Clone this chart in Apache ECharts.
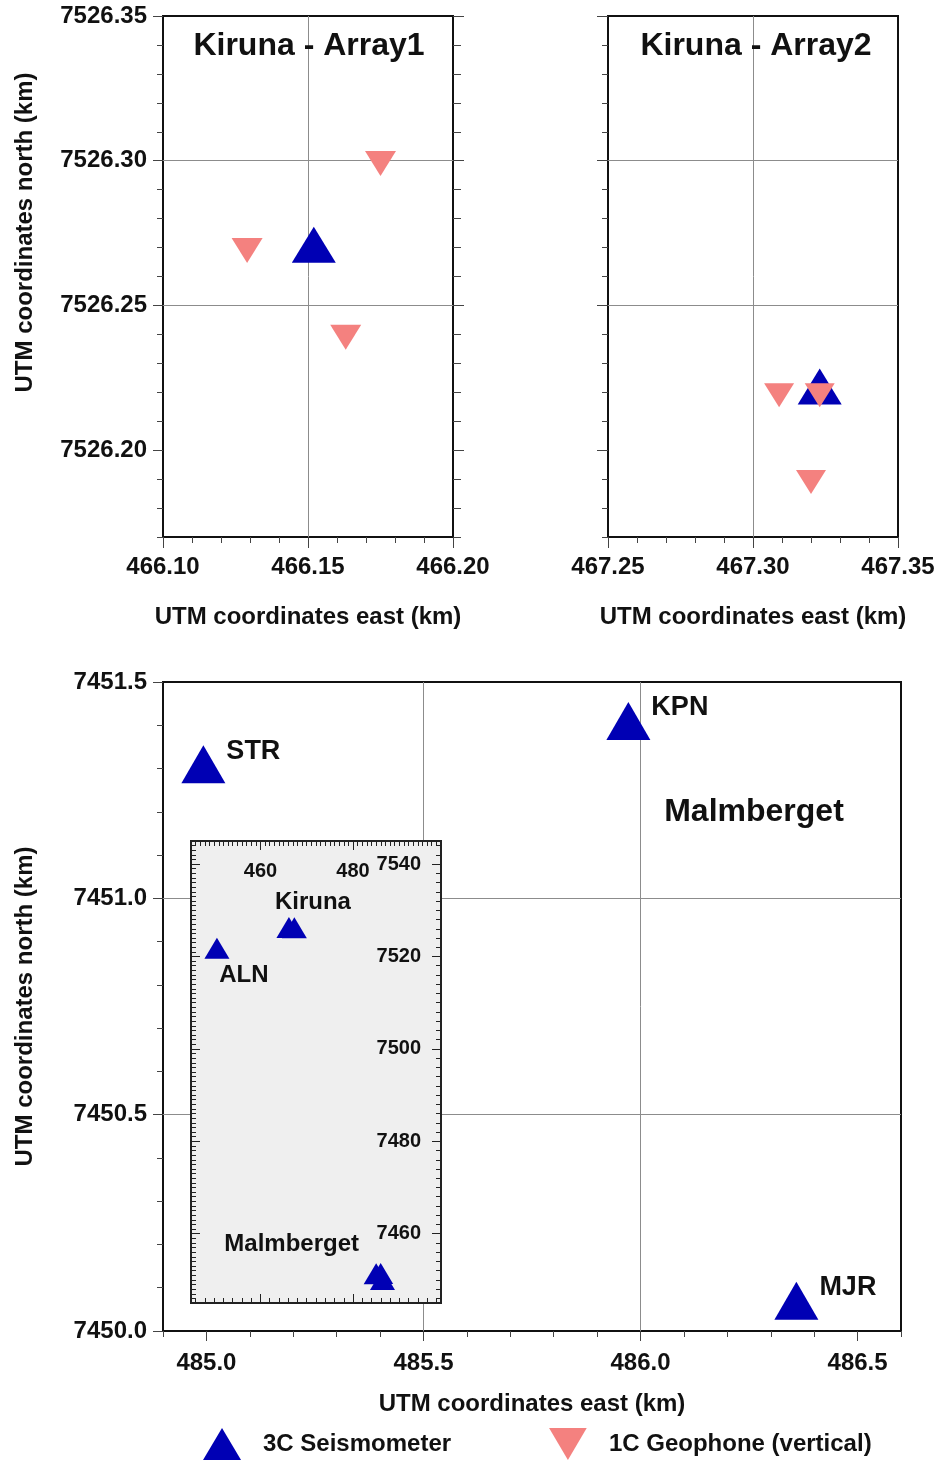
<!DOCTYPE html>
<html>
<head>
<meta charset="utf-8">
<title>Seismic station layout – Kiruna and Malmberget</title>
<script src="https://cdn.jsdelivr.net/npm/echarts@6/dist/echarts.min.js"></script>
<style>
  html, body { margin: 0; padding: 0; background: #ffffff; }
  #chart { width: 942px; height: 1464px; }
</style>
</head>
<body>
<div id="chart"></div>
<script>
// ---- station coordinates (UTM, km) ----
// Kiruna - Array1
const array1Seismometer = [[466.152, 7526.271]];
const array1Geophones   = [[466.129, 7526.269], [466.175, 7526.299], [466.163, 7526.239]];
// Kiruna - Array2
const array2Seismometer = [[467.323, 7526.222]];
const array2Geophones   = [[467.309, 7526.219], [467.323, 7526.219], [467.320, 7526.189]];
// Malmberget stations
const malmStations = ['STR', 'KPN', 'MJR'];
const malmEast     = [484.993, 485.972, 486.359];
const malmNorth    = [7451.31, 7451.41, 7450.07];
// regional station shown in the overview map
const alnStation = ['ALN', 450.6, 7521.8];

// ---- axis ranges and labelled tick values ----
const array1EastRange = [466.10, 466.20];
const array1EastTicks = [466.10, 466.15, 466.20];
const array2EastRange = [467.25, 467.35];
const array2EastTicks = [467.25, 467.30, 467.35];
const kirunaNorthRange = [7526.17, 7526.35];
const kirunaNorthTicks = [7526.20, 7526.25, 7526.30, 7526.35];
const malmEastRange  = [484.9, 486.6];
const malmEastTicks  = [485.0, 485.5, 486.0, 486.5];
const malmNorthRange = [7450.0, 7451.5];
const malmNorthTicks = [7450.0, 7450.5, 7451.0, 7451.5];
const overviewEastRange  = [445, 499];
const overviewEastTicks  = [460, 480];
const overviewNorthRange = [7445, 7545];
const overviewNorthTicks = [7460, 7480, 7500, 7520, 7540];

const FONT = '"Liberation Sans", Arial, Helvetica, sans-serif';
const BLUE = '#0000b4';
const PINK = '#f4817f';
const INK  = '#111111';
const TICK = '#444444';
const INSET_TICK = '#222222';
const GRIDLINE = '#8c8c8c';
const SEIS = '3C Seismometer';
const GEO  = '1C Geophone (vertical)';

const labelFont = { color: INK, fontFamily: FONT, fontWeight: 'bold', fontSize: 24 };

// plain value axis: only ticks, no labels or gridlines
function tickAxis(grid, position, range, tickLen, inside, extra) {
  return Object.assign({
    type: 'value', gridIndex: grid, position: position,
    min: range[0], max: range[1],
    axisLine: { show: false },
    axisTick: { show: true, inside: !!inside, length: tickLen,
                lineStyle: { color: inside ? INSET_TICK : TICK, width: 1 } },
    axisLabel: { show: false },
    splitLine: { show: false }
  }, extra || {});
}

// axis whose ticks (and optionally labels / gridlines) sit only at listed values
function listedAxis(grid, position, range, values, tickLen, opts) {
  opts = opts || {};
  const axis = tickAxis(grid, position, range, tickLen, opts.inside);
  axis.axisTick.customValues = values;
  if (opts.digits !== undefined) {
    axis.axisLabel = Object.assign({
      show: true, customValues: values, inside: !!opts.inside,
      margin: opts.margin, formatter: function (v) { return Number(v).toFixed(opts.digits); }
    }, labelFont, opts.labelStyle || {});
  }
  if (opts.gridlines) {
    axis.splitLine = { show: true, showMinLine: false, showMaxLine: false, lineStyle: { color: GRIDLINE, width: 1 } };
  }
  if (opts.name) {
    axis.name = opts.name;
    axis.nameLocation = 'middle';
    axis.nameGap = opts.nameGap;
    axis.nameTextStyle = Object.assign({}, labelFont, opts.nameStyle || {});
  }
  if (opts.z !== undefined) axis.z = opts.z;
  return axis;
}

const EAST_NAME  = 'UTM coordinates east (km)';
const NORTH_NAME = 'UTM coordinates north (km)';

const xAxes = [
  // 0,1 : Kiruna - Array1
  listedAxis(0, 'bottom', array1EastRange, array1EastTicks, 11,
    { digits: 2, margin: 18, gridlines: true, name: EAST_NAME, nameGap: 68 }),
  tickAxis(0, 'bottom', array1EastRange, 6, false, { interval: 0.01 }),
  // 2,3 : Kiruna - Array2
  listedAxis(1, 'bottom', array2EastRange, array2EastTicks, 11,
    { digits: 2, margin: 18, gridlines: true, name: EAST_NAME, nameGap: 68 }),
  tickAxis(1, 'bottom', array2EastRange, 6, false, { interval: 0.01 }),
  // 4,5 : Malmberget
  listedAxis(2, 'bottom', malmEastRange, malmEastTicks, 10,
    { digits: 1, margin: 20, gridlines: true, name: EAST_NAME, nameGap: 61 }),
  tickAxis(2, 'bottom', malmEastRange, 6, false, { interval: 0.1 }),
  // 6-9 : overview map (ticks on all sides, pointing inward)
  listedAxis(3, 'top', overviewEastRange, overviewEastTicks, 9,
    { digits: 0, inside: true, margin: 20, z: 11, labelStyle: { fontSize: 20 } }),
  tickAxis(3, 'top', overviewEastRange, 5, true, { interval: 1, z: 11 }),
  listedAxis(3, 'bottom', overviewEastRange, overviewEastTicks, 9, { inside: true, z: 11 }),
  tickAxis(3, 'bottom', overviewEastRange, 5, true, { splitNumber: 27, z: 11 })
];

const yAxes = [
  // 0-3 : Kiruna - Array1
  listedAxis(0, 'left', kirunaNorthRange, kirunaNorthTicks, 10,
    { digits: 2, margin: 16, gridlines: true, name: NORTH_NAME, nameGap: 126,
      nameStyle: { padding: [0, 0, 0, 88] } }),
  tickAxis(0, 'left', kirunaNorthRange, 6, false, { interval: 0.01 }),
  tickAxis(0, 'right', kirunaNorthRange, 8, false, { interval: 0.01 }),
  listedAxis(0, 'right', kirunaNorthRange, kirunaNorthTicks, 11),
  // 4,5 : Kiruna - Array2
  listedAxis(1, 'left', kirunaNorthRange, kirunaNorthTicks, 11, { gridlines: true }),
  tickAxis(1, 'left', kirunaNorthRange, 6, false, { interval: 0.01 }),
  // 6,7 : Malmberget
  listedAxis(2, 'left', malmNorthRange, malmNorthTicks, 10,
    { digits: 1, margin: 16, gridlines: true, name: NORTH_NAME, nameGap: 126 }),
  tickAxis(2, 'left', malmNorthRange, 6, false, { interval: 0.1 }),
  // 8-11 : overview map
  listedAxis(3, 'right', overviewNorthRange, overviewNorthTicks, 9,
    { digits: 0, inside: true, margin: 20, z: 11, labelStyle: { fontSize: 20 } }),
  tickAxis(3, 'right', overviewNorthRange, 5, true, { splitNumber: 50, z: 11 }),
  listedAxis(3, 'left', overviewNorthRange, overviewNorthTicks, 9, { inside: true, z: 11 }),
  tickAxis(3, 'left', overviewNorthRange, 5, true, { interval: 1, z: 11 })
];

const frame = { show: true, borderColor: INK, borderWidth: 2, backgroundColor: 'transparent' };
const grids = [
  Object.assign({ left: 163, top: 16, width: 290, height: 521 }, frame),
  Object.assign({ left: 608, top: 16, width: 290, height: 521 }, frame),
  Object.assign({ left: 163, top: 682, width: 738, height: 649 }, frame),
  Object.assign({}, frame, { left: 191, top: 841, width: 250, height: 462,
    backgroundColor: '#efefef', borderColor: '#222222', z: 10 })
];

const DOWN = 180;

function seismometers(data, x, y, size, extra) {
  return Object.assign({
    name: SEIS, type: 'scatter', xAxisIndex: x, yAxisIndex: y,
    symbol: 'triangle', symbolSize: size, data: data,
    itemStyle: { color: BLUE, opacity: 1 }, silent: true, z: 3
  }, extra || {});
}
function geophones(data, x, y, size) {
  return {
    name: GEO, type: 'scatter', xAxisIndex: x, yAxisIndex: y,
    symbol: 'triangle', symbolRotate: DOWN, symbolSize: size, data: data,
    itemStyle: { color: PINK, opacity: 1 }, silent: true, z: 4
  };
}

// Malmberget stations with their names
const malmData = malmStations.map(function (name, i) {
  return { name: name, value: [malmEast[i], malmNorth[i]] };
});

const stationLabel = Object.assign({
  show: true, position: 'right', distance: 1, offset: [0, -13],
  formatter: function (p) { return p.name; }
}, labelFont, { fontSize: 27 });

// overview map: every site, with place names on selected markers
const placeLabel = Object.assign({ show: true, position: 'inside' }, labelFont, { fontSize: 24 });
const overviewData = [
  { value: [alnStation[1], alnStation[2]],
    label: Object.assign({}, placeLabel, { formatter: alnStation[0], offset: [27, 27] }) },
  { value: array1Seismometer[0],
    label: Object.assign({}, placeLabel, { formatter: 'Kiruna', offset: [24, -25] }) },
  { value: array2Seismometer[0] },
  { value: [malmEast[0], malmNorth[0]] },
  { value: [malmEast[1], malmNorth[1]],
    label: Object.assign({}, placeLabel, { formatter: 'Malmberget', offset: [-89, -29] }) },
  { value: [malmEast[2], malmNorth[2]] }
];

const series = [
  seismometers(array1Seismometer, 0, 0, [44, 36]),
  geophones(array1Geophones, 0, 0, [31, 25]),
  seismometers(array2Seismometer, 2, 4, [44, 36]),
  geophones(array2Geophones, 2, 4, [30, 24]),
  seismometers(malmData, 4, 6, [44, 38], { label: stationLabel }),
  seismometers(overviewData, 6, 8, [25, 21], { z: 12 })
];

function heading(text, x, y, size) {
  return {
    type: 'text', x: x, y: y, silent: true, z: 20,
    style: { text: text, textAlign: 'center', textVerticalAlign: 'middle',
             font: 'bold ' + size + 'px ' + FONT, fill: INK }
  };
}

const option = {
  backgroundColor: '#ffffff',
  animation: false,
  grid: grids,
  xAxis: xAxes,
  yAxis: yAxes,
  series: series,
  legend: {
    left: 203, top: 1428, orient: 'horizontal', padding: 0,
    itemWidth: 38, itemHeight: 32, itemGap: 98,
    selectedMode: false,
    textStyle: Object.assign({}, labelFont, { padding: [0, 0, 0, 17] }),
    data: [
      { name: SEIS, icon: 'triangle' },
      { name: GEO, icon: 'path://M0,0L10,0L5,8.5Z' }
    ]
  },
  graphic: [
    heading('Kiruna - Array1', 309, 46, 32),
    heading('Kiruna - Array2', 756, 46, 32),
    heading('Malmberget', 754, 812, 32)
  ]
};

const chart = echarts.init(document.getElementById('chart'), null, { renderer: 'canvas' });
chart.setOption(option);
</script>
</body>
</html>
